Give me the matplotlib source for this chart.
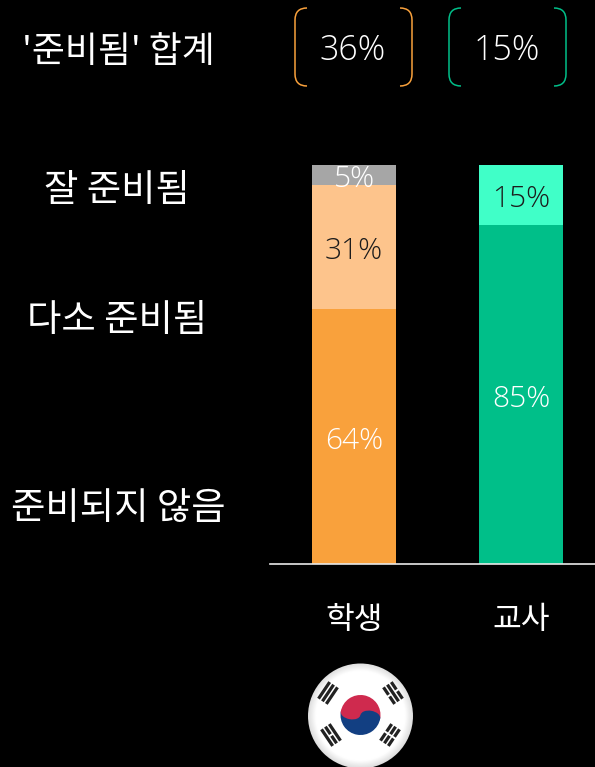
import numpy as np
import matplotlib
matplotlib.use("Agg")
import matplotlib.pyplot as plt
from matplotlib.patches import Circle, Ellipse, PathPatch, Rectangle, Wedge
from matplotlib.path import Path
from matplotlib.transforms import Affine2D, ScaledTranslation

W, H = 595, 767

groups = ["학생", "교사"]
not_ready = [64, 85]
somewhat = [31, 15]
well = [5, 0]
totals = ["36%", "15%"]
row_labels = ["잘 준비됨", "다소 준비됨", "준비되지 않음"]
title_label = "'준비됨' 합계"

KR = ["Noto Sans CJK KR", "DejaVu Sans"]
NUM = ["Open Sans", "DejaVu Sans"]
ORANGE = "#f9a13c"
GREEN = "#00bf89"

fig = plt.figure(figsize=(W / 100, H / 100), dpi=100, facecolor="black")

# overlay in pixel coordinates, for the text and decoration
over = fig.add_axes([0, 0, 1, 1], zorder=3)
over.set_xlim(0, W)
over.set_ylim(H, 0)
over.axis("off")
over.patch.set_alpha(0)

# bars
ax = fig.add_axes([270 / W, (H - 564) / H, 325 / W, 399 / H], facecolor="black")
step = 167
ax.set_xlim(-84 / step, 241 / step)
ax.set_ylim(0, 100)
x = np.arange(len(groups))
bar_w = 84 / step
low = np.array(not_ready)
mid = np.array(somewhat)
top = np.array(well)
ax.bar(x, low, bar_w, color=[ORANGE, GREEN])
ax.bar(x, mid, bar_w, bottom=low, color=["#fdc48c", "#40ffc8"])
ax.bar(x, top, bar_w, bottom=low + mid, color="#a6a6a6")
for s in ["top", "left", "right"]:
    ax.spines[s].set_visible(False)
ax.spines["bottom"].set_color("#e8e8e8")
ax.spines["bottom"].set_linewidth(1.2)
ax.set_yticks([])
ax.set_xticks(x)
ax.set_xticklabels(groups, family=KR, fontsize=22.5, color="white")
ax.tick_params(axis="x", length=0, pad=29)

# segment labels, nudged a few pixels down from the segment centre
down = ax.transData + ScaledTranslation(0, -3.2 / 72, fig.dpi_scale_trans)
num_kw = dict(ha="center", va="center", family=NUM, fontsize=21.5, fontweight="light", transform=down)
for i in x:
    ax.text(i, low[i] / 2, f"{low[i]}%", color="white", **num_kw)
    ax.text(i, low[i] + mid[i] / 2, f"{mid[i]}%", color="#1c1c1c", **num_kw)
    if top[i] > 0:
        ax.text(i, low[i] + mid[i] + top[i] / 2, f"{top[i]}%", color="white", **num_kw)

# left labels
over.text(118, 52, title_label, ha="center", va="center", family=KR, fontsize=25.8, color="white")
for lab, yy, cx in zip(row_labels, [191, 321, 509], [117, 117, 118]):
    over.text(cx, yy, lab, ha="center", va="center", family=KR, fontsize=26.9, color="white")


# total boxes with rounded brackets
def bracket(x0, x1, col):
    y0, y1 = 8, 86
    r = 12
    for xa, sgn in [(x0, 1), (x1, -1)]:
        verts = [(xa + sgn * r, y0), (xa, y0), (xa, y0 + r), (xa, y1 - r), (xa, y1), (xa + sgn * r, y1)]
        codes = [Path.MOVETO, Path.CURVE3, Path.CURVE3, Path.LINETO, Path.CURVE3, Path.CURVE3]
        over.add_patch(PathPatch(Path(verts, codes), fc="none", ec=col, lw=1.1))


bracket(295, 412, ORANGE)
bracket(449, 566, GREEN)
for t, cx in zip(totals, [353, 507]):
    over.text(cx, 51, t, ha="center", va="center", family=NUM, fontsize=24.5, fontweight="light", color="white")

# flag badge
fx, fy, fr = 360.5, 716, 52.5
yy, xx = np.mgrid[-1:1:220j, -1:1:220j]
rr = np.hypot(xx, yy)
shade = np.clip(1 - np.clip(rr - 0.85, 0, 1) * 0.9, 0, 1)
img = over.imshow(shade, extent=[fx - fr, fx + fr, fy + fr, fy - fr], cmap="gray", vmin=0, vmax=1, zorder=1)
img.set_clip_path(Circle((fx, fy), fr, transform=over.transData))
over.set_xlim(0, W)
over.set_ylim(H, 0)
over.set_aspect("auto")

rot = Affine2D().rotate_deg_around(fx, fy - 1, 10) + over.transData
RED, BLUE = "#cf2a4e", "#123f82"
R = 20
cy = fy - 1
over.add_patch(Wedge((fx, cy), R, 180, 360, fc=RED, ec="none", transform=rot, zorder=2))
over.add_patch(Wedge((fx, cy), R, 0, 180, fc=BLUE, ec="none", transform=rot, zorder=2))
over.add_patch(Ellipse((fx - R / 2, cy), R, R * 0.6, fc=RED, ec="none", transform=rot, zorder=2))
over.add_patch(Ellipse((fx + R / 2, cy), R, R * 0.6, fc=BLUE, ec="none", transform=rot, zorder=2))


# trigrams, each row says whether the bar is broken
def trigram(dx, dy, rows, ang):
    tr = Affine2D().rotate_deg(ang).translate(fx + dx, cy + dy) + over.transData
    for k, broken in enumerate(rows):
        yb = -6.5 + k * 4.7
        if broken:
            over.add_patch(Rectangle((-10, yb - 1.6), 9, 3.2, fc="#222222", ec="none", transform=tr, zorder=2))
            over.add_patch(Rectangle((1, yb - 1.6), 9, 3.2, fc="#222222", ec="none", transform=tr, zorder=2))
        else:
            over.add_patch(Rectangle((-10, yb - 1.6), 20, 3.2, fc="#222222", ec="none", transform=tr, zorder=2))


trigram(-31, -21, [0, 0, 0], -56)
trigram(31, -21, [1, 0, 1], 56)
trigram(-31, 21, [0, 1, 0], 56)
trigram(31, 21, [1, 1, 1], -56)

fig.savefig("out.png", dpi=100, facecolor="black")
